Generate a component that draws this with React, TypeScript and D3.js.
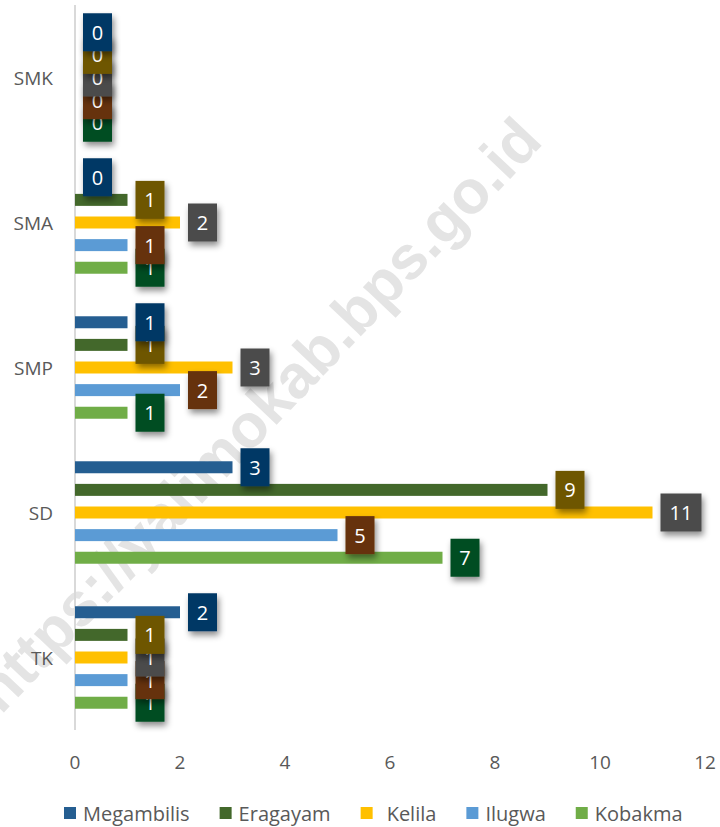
import { useMemo } from "react";
import * as d3 from "d3";

// categories top to bottom, as shown on the chart
const categories = ["SMK", "SMA", "SMP", "SD", "TK"];
const seriesNames = ["Megambilis", "Eragayam", "Kelila", "Ilugwa", "Kobakma"];

// values per category (same order as categories)
const megambilis = [0, 0, 1, 3, 2];
const eragayam = [0, 1, 1, 9, 1];
const kelila = [0, 2, 3, 11, 1];
const ilugwa = [0, 1, 2, 5, 1];
const kobakma = [0, 1, 1, 7, 1];

const xTicks = [0, 2, 4, 6, 8, 10, 12];

const barColors = ["#255E91", "#43682B", "#FFC000", "#5B9BD5", "#70AD47"];
const labelColors = ["#003865", "#6E5600", "#4B4B4B", "#66300A", "#004D24"];

const width = 720;
const height = 827;
const marginLeft = 75;
const marginRight = 15;
const marginTop = 5;
const plotBottom = 730;

const font = "'Open Sans', sans-serif";
const textGray = "#595959";

const App = () => {
  const series = [megambilis, eragayam, kelila, ilugwa, kobakma];

  const xScale = d3.scaleLinear().domain([0, 12]).range([marginLeft, width - marginRight]);

  const yScale = d3
    .scaleBand()
    .domain(categories)
    .range([marginTop, plotBottom])
    .paddingInner(0.22)
    .paddingOuter(0.11);

  const yInner = d3
    .scaleBand()
    .domain(seriesNames)
    .range([0, yScale.bandwidth()])
    .paddingInner(0.47)
    .paddingOuter(0.235);

  // flatten into rows for drawing
  const rows = categories.flatMap((cat, ci) =>
    seriesNames.map((name, si) => ({ cat, name, si, value: series[si][ci] }))
  );

  // legend layout from text widths
  const legend = useMemo(() => {
    const canvas = document.createElement("canvas");
    const ctx = canvas.getContext("2d");
    if (ctx) ctx.font = `20px ${font}`;
    let x = 64;
    return seriesNames.map((name, i) => {
      const extra = name === "Kelila" ? 7 : 0;
      const item = { name, i, x, tx: x + 19 + extra };
      const w = ctx ? ctx.measureText(name).width : name.length * 10;
      x = item.tx + w + 30;
      return item;
    });
  }, []);

  const labelW = (v: number) => (String(v).length > 1 ? 41 : 29);
  const labelH = 38;

  return (
    <svg
      width={width}
      height={height}
      viewBox={`0 0 ${width} ${height}`}
      style={{ position: "absolute", left: 0, top: 0, background: "#fff" }}
    >
      <defs>
        <filter id="shadow" x="-50%" y="-50%" width="200%" height="200%">
          <feDropShadow dx="2" dy="4" stdDeviation="3" floodColor="#000" floodOpacity="0.45" />
        </filter>
      </defs>

      {/* watermark */}
      <text
        transform="translate(261,418) rotate(-46.5)"
        textAnchor="middle"
        dominantBaseline="middle"
        fontFamily="'Liberation Sans', Arial, sans-serif"
        fontWeight="bold"
        fontSize={61}
        fill="#e4e4e4"
      >
        https://yalimokab.bps.go.id
      </text>

      {/* axis line */}
      <line x1={xScale(0)} x2={xScale(0)} y1={marginTop} y2={plotBottom} stroke="#d9d9d9" strokeWidth={2} />

      <g className="bars">
        {rows.map((d) => (
          <rect
            key={d.cat + d.name}
            x={xScale(0)}
            y={(yScale(d.cat) ?? 0) + (yInner(d.name) ?? 0)}
            width={xScale(d.value) - xScale(0)}
            height={yInner.bandwidth()}
            fill={barColors[d.si]}
          />
        ))}
      </g>

      {/* data labels, bottom series first so the top one sits on top */}
      <g className="labels">
        {categories.map((cat) =>
          [...seriesNames].reverse().map((name) => {
            const si = seriesNames.indexOf(name);
            const v = series[si][categories.indexOf(cat)];
            const cy = (yScale(cat) ?? 0) + (yInner(name) ?? 0) + yInner.bandwidth() / 2;
            const bx = xScale(v) + 8;
            const w = labelW(v);
            return (
              <g key={cat + name}>
                <rect
                  x={bx}
                  y={cy - labelH / 2}
                  width={w}
                  height={labelH}
                  fill={labelColors[si]}
                  filter="url(#shadow)"
                />
                <text
                  x={bx + w / 2}
                  y={cy}
                  textAnchor="middle"
                  dominantBaseline="central"
                  fontFamily={font}
                  fontSize={20}
                  fill="#fff"
                >
                  {v}
                </text>
              </g>
            );
          })
        )}
      </g>

      {/* category labels */}
      <g className="y-axis">
        {categories.map((cat) => (
          <text
            key={cat}
            x={53}
            y={(yScale(cat) ?? 0) + yScale.bandwidth() / 2}
            textAnchor="end"
            dominantBaseline="central"
            fontFamily={font}
            fontSize={19}
            fill={textGray}
          >
            {cat}
          </text>
        ))}
      </g>

      {/* x tick labels */}
      <g className="x-axis">
        {xTicks.map((t) => (
          <text
            key={t}
            x={xScale(t)}
            y={762}
            textAnchor="middle"
            dominantBaseline="central"
            fontFamily={font}
            fontSize={19}
            fill={textGray}
          >
            {t}
          </text>
        ))}
      </g>

      {/* legend */}
      <g className="legend">
        {legend.map((d) => (
          <g key={d.name}>
            <rect x={d.x} y={807} width={12} height={12} fill={barColors[d.i]} />
            <text
              x={d.tx}
              y={813}
              dominantBaseline="central"
              fontFamily={font}
              fontSize={20}
              fill={textGray}
            >
              {d.name}
            </text>
          </g>
        ))}
      </g>
    </svg>
  );
};

export default App;
